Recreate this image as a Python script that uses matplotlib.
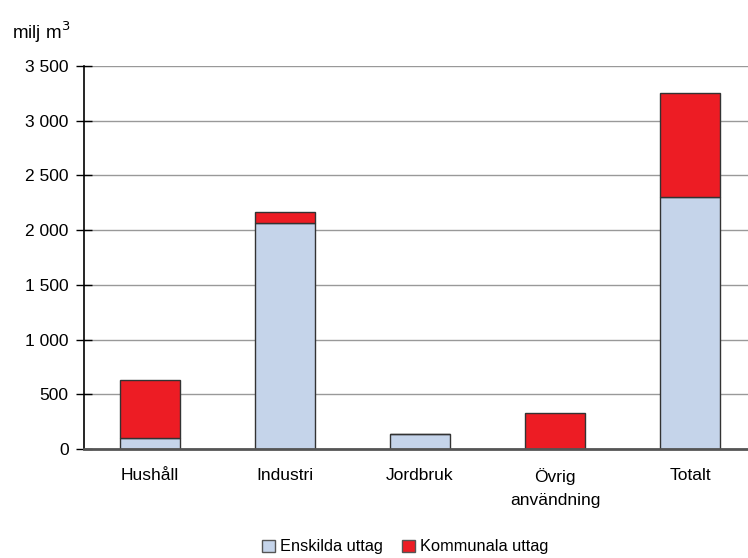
import numpy as np
import matplotlib.pyplot as plt
from matplotlib.patches import Patch
from matplotlib.ticker import FuncFormatter

plt.rcParams['font.family'] = ['Liberation Sans', 'DejaVu Sans']

# --- données (milj m3) ---
categories = ["Hushåll", "Industri", "Jordbruk", "Övrig\nanvändning", "Totalt"]
enskilda = [100, 2066, 135, 0, 2300]
kommunala = [530, 100, 0, 330, 955]
yticks = [0, 500, 1000, 1500, 2000, 2500, 3000, 3500]

blue = "#C5D4EA"
red = "#ED1C24"
fs = 12.5

fig = plt.figure(figsize=(7.48, 5.58), dpi=100)
ax = fig.add_axes([84 / 748, 109 / 558, 664 / 748, 383 / 558])

x = np.arange(len(categories))
w = 0.44
ax.bar(x, enskilda, w, color=blue, edgecolor="#333333", linewidth=1, zorder=3)
ax.bar(x, kommunala, w, bottom=enskilda, color=red, edgecolor="#333333",
       linewidth=1, zorder=3)

ax.set_xlim(-0.489, 4.43)
ax.set_ylim(0, 3500)
ax.set_yticks(yticks)
ax.yaxis.set_major_formatter(FuncFormatter(lambda v, p: f"{int(v):,}".replace(",", " ")))
ax.set_xticks(x)
ax.set_xticklabels(categories, fontsize=fs, linespacing=1.6, va="top")
ax.tick_params(axis="x", length=0, pad=14)
ax.tick_params(axis="y", direction="inout", length=12, width=1, color="black",
               labelsize=fs, pad=5)

ax.grid(axis="y", color="#999999", linewidth=1, zorder=0)
ax.spines["top"].set_visible(False)
ax.spines["right"].set_visible(False)
ax.spines["left"].set_color("black")
ax.spines["left"].set_linewidth(1.2)
ax.spines["bottom"].set_color("#555555")
ax.spines["bottom"].set_linewidth(2)
ax.spines["bottom"].set_zorder(4)

fig.text(12 / 748, 1 - 32 / 558, "milj m$^3$", fontsize=13.5, va="center", ha="left")

handles = [Patch(facecolor=blue, edgecolor="#555555", label="Enskilda uttag"),
           Patch(facecolor=red, edgecolor="#555555", label="Kommunala uttag")]
fig.legend(handles=handles, loc="center", bbox_to_anchor=(405 / 748, 1 - 547 / 558),
           ncol=2, frameon=False, fontsize=11.8, handlelength=0.8, handleheight=0.8,
           handletextpad=0.3, columnspacing=1.2, borderaxespad=0)

plt.savefig("out.png", dpi=100)
